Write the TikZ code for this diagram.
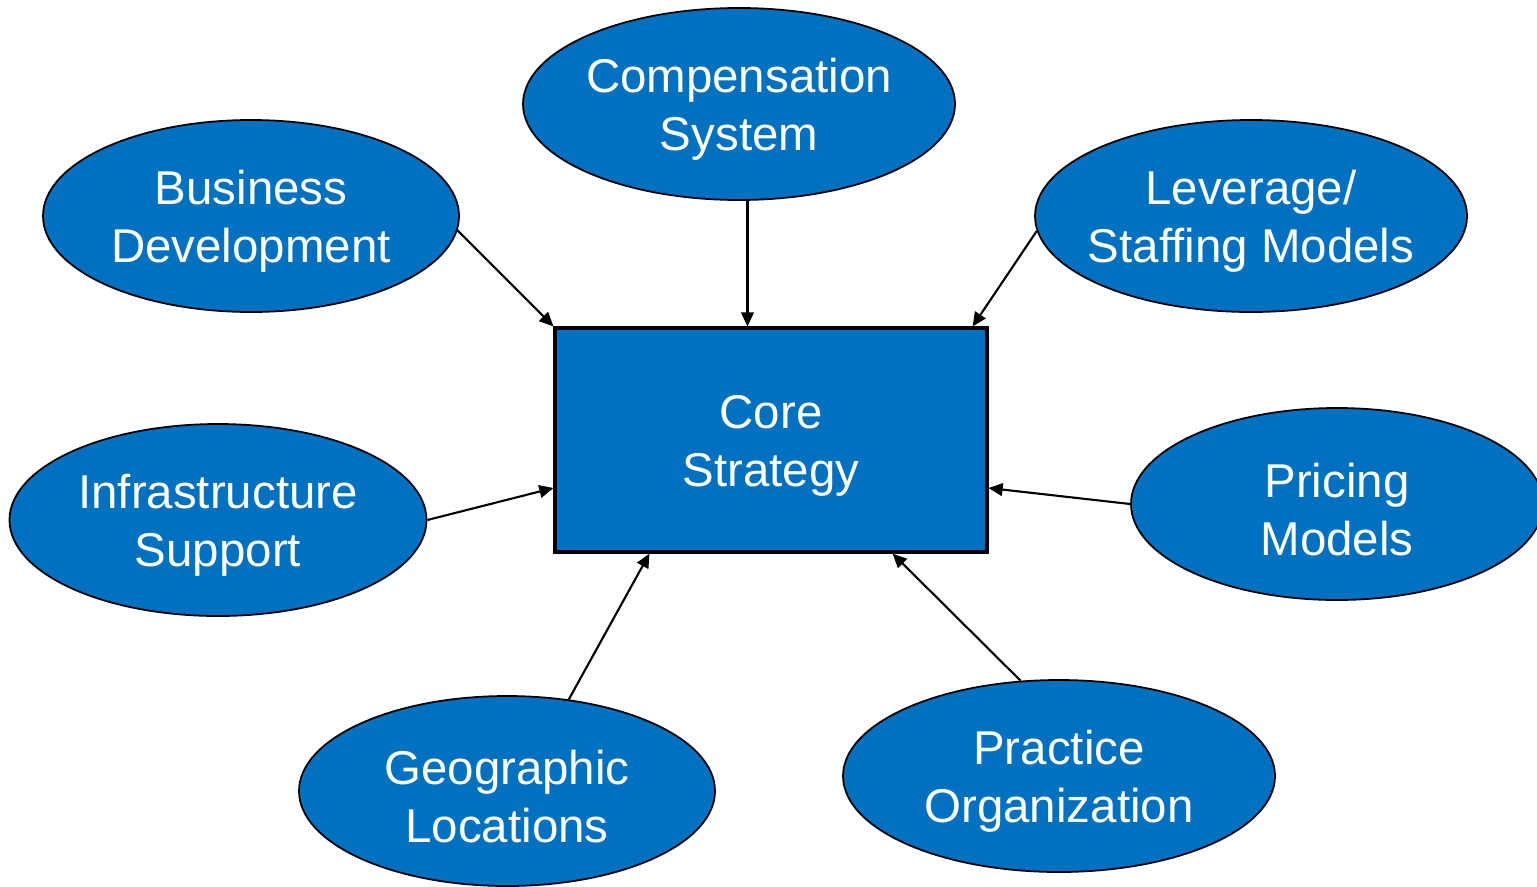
\documentclass[tikz,border=0pt]{standalone}
\usepackage{fontspec}
\setmainfont{Liberation Sans}
\usetikzlibrary{shapes.geometric,arrows.meta}
\definecolor{coreblue}{RGB}{0,112,192}
% taller first line, pushes the two-line labels down a little
\newcommand{\padtop}{\rule{0pt}{12.8pt}}

\begin{document}
\begin{tikzpicture}[
	topic/.style={ellipse, draw=black, line width=0.5pt, fill=coreblue, text=white,
		minimum width=4.16cm, minimum height=1.92cm, inner xsep=-0.6cm, inner ysep=0pt,
		align=center, font=\fontsize{13.5}{16.5}\selectfont},
	feeds/.style={-{Triangle[length=4pt, width=3.6pt]}, line width=0.6pt}]
	\useasboundingbox (0,0) rectangle (15.37,-8.86);
	\node[draw=black, line width=0.9pt, fill=coreblue, text=white, minimum width=4.32cm,
	minimum height=2.24cm, align=center, font=\fontsize{13.5}{16.5}\selectfont]
	(core) at (7.71,-4.40) {\padtop Core\\Strategy};
	\node[topic, minimum width=4.32cm] (comp) at (7.39,-1.04) {\padtop Compensation\\System};
	\node[topic] (busdev) at (2.51,-2.16) {\padtop Business\\Development};
	\node[topic, minimum width=4.32cm] (lever) at (12.51,-2.16) {\padtop Leverage/\\Staffing Models};
	\node[topic, minimum width=4.17cm] (infra) at (2.18,-5.20) {\padtop Infrastructure\\Support};
	\node[topic, minimum width=4.12cm] (pricing) at (13.37,-5.04) {\padtop Pricing\\Models};
	\node[topic, minimum height=1.90cm] (geo) at (5.07,-7.91) {\padtop Geographic\\Locations};
	\node[topic, minimum width=4.32cm] (practice) at (10.59,-7.76) {\padtop Practice\\Organization};
	% everything points into the core box
	\draw[feeds] (busdev.-4) -- (core.north west);
	\draw[feeds] (comp.-85) -- (comp.-85 |- core.north);
	\draw[feeds] (lever.184) -- ([xshift=-0.16cm]core.north east);
	\draw[feeds] (infra.east) -- ([yshift=-0.48cm]core.west);
	\draw[feeds] (pricing.west) -- ([yshift=-0.48cm]core.east);
	\draw[feeds] (geo.56) -- ([xshift=0.96cm]core.south west);
	\draw[feeds] (practice.112) -- ([xshift=-0.96cm]core.south east);
\end{tikzpicture}
\end{document}
